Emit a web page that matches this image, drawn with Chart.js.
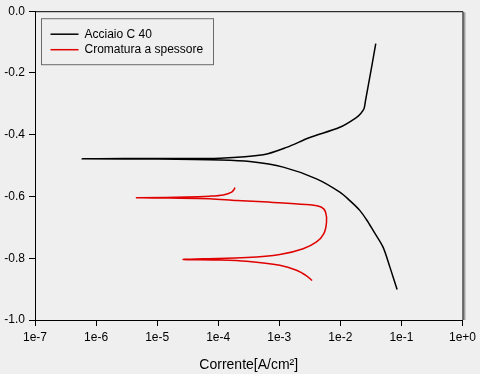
<!DOCTYPE html>
<html>
<head>
<meta charset="utf-8">
<script src="https://cdn.jsdelivr.net/npm/chart.js@4"></script>
<style>
  html, body { margin: 0; padding: 0; background: #efefef; }
  #wrap { width: 480px; height: 374px; }
</style>
</head>
<body>
<div id="wrap"><canvas id="chart" width="480" height="374"></canvas></div>
<script>
// Acciaio C 40: potential (V) vs current density (A/cm2), read along the path
const steelCurrent = [3.8e-2, 3.24e-2, 2.58e-2, 2.43e-2, 2.16e-2, 1.84e-2, 9.8e-3, 3.16e-3, 1.32e-3, 5.46e-4, 1.07e-4, 1e-5, 5.9e-7,
                      1e-5, 1.07e-4, 3.3e-4, 1.16e-3, 4.07e-3, 9.8e-3, 1.46e-2, 2.08e-2, 2.72e-2, 3.44e-2, 5.0e-2, 6.46e-2, 8.5e-2];
const steelPotential = [-0.105, -0.183, -0.290, -0.317, -0.331, -0.344, -0.376, -0.409, -0.441, -0.465, -0.476, -0.477, -0.478,
                        -0.479, -0.482, -0.487, -0.505, -0.543, -0.586, -0.615, -0.645, -0.677, -0.710, -0.764, -0.828, -0.901];

// Cromatura a spessore
const chromeCurrent = [1.87e-4, 1.85e-4, 1.66e-4, 1.21e-4, 7.3e-5, 3.04e-5, 4.6e-6,
                       1.62e-5, 7.3e-5, 2.0e-4, 6.6e-4, 1.02e-3, 3.16e-3, 4.92e-3, 5.73e-3, 5.94e-3, 5.37e-3, 4.07e-3, 2.46e-3, 1.02e-3, 2.92e-4, 5.67e-5, 2.67e-5,
                       1.07e-4, 2.92e-4, 1.02e-3, 1.92e-3, 2.8e-3, 3.45e-3];
const chromePotential = [-0.571, -0.575, -0.586, -0.595, -0.599, -0.602, -0.604,
                         -0.605, -0.607, -0.613, -0.618, -0.620, -0.627, -0.635, -0.651, -0.683, -0.720, -0.747, -0.769, -0.788, -0.798, -0.802, -0.804,
                         -0.806, -0.810, -0.823, -0.839, -0.857, -0.872];

const xDecades = [-7, -6, -5, -4, -3, -2, -1, 0];
const seriesNames = ['Acciaio C 40', 'Cromatura a spessore'];
const seriesColors = ['#000000', '#e00000'];
const xTitle = 'Corrente[A/cm²]';

function toPoints(xs, ys) {
    return xs.map((x, i) => ({ x: x, y: ys[i] }));
}

Chart.defaults.font.family = '"Liberation Sans", Arial, sans-serif';
Chart.defaults.font.size = 12;
Chart.defaults.color = '#000';

// frame on top / right and the box legend in the upper left corner
const framePlugin = {
    id: 'frame',
    beforeDraw(chart) {
        const ctx = chart.ctx;
        ctx.save();
        ctx.fillStyle = '#efefef';
        ctx.fillRect(0, 0, chart.width, chart.height);
        ctx.restore();
    },
    afterDraw(chart) {
        const ctx = chart.ctx;
        const a = chart.chartArea;
        ctx.save();
        ctx.strokeStyle = '#a0a0a0';
        ctx.lineWidth = 2;
        ctx.beginPath();
        ctx.moveTo(a.right + 2, a.top + 1);
        ctx.lineTo(a.right + 2, a.bottom);
        ctx.stroke();
        ctx.strokeStyle = '#000';
        ctx.lineWidth = 1;
        ctx.beginPath();
        ctx.moveTo(a.left, a.top + 0.5);
        ctx.lineTo(a.right + 0.5, a.top + 0.5);
        ctx.lineTo(a.right + 0.5, a.bottom);
        ctx.stroke();

        // legend
        const lx = a.left + 6.5, ly = a.top + 7.5;
        ctx.strokeStyle = '#6a6a6a';
        ctx.strokeRect(lx, ly, 172, 46);
        ctx.font = '12px "Liberation Sans", Arial, sans-serif';
        ctx.textBaseline = 'middle';
        ctx.fillStyle = '#000';
        seriesNames.forEach((name, i) => {
            const y = ly + 15.5 + i * 15.5;
            ctx.strokeStyle = seriesColors[i];
            ctx.lineWidth = 1.5;
            ctx.beginPath();
            ctx.moveTo(lx + 9, y);
            ctx.lineTo(lx + 37, y);
            ctx.stroke();
            ctx.fillText(name, lx + 43, y);
        });
        ctx.restore();
    }
};

new Chart(document.getElementById('chart'), {
    type: 'scatter',
    data: {
        datasets: [
            {
                label: seriesNames[0],
                data: toPoints(steelCurrent, steelPotential),
                showLine: true,
                borderColor: seriesColors[0],
                borderWidth: 1.5,
                pointRadius: 0,
                tension: 0.3
            },
            {
                label: seriesNames[1],
                data: toPoints(chromeCurrent, chromePotential),
                showLine: true,
                borderColor: seriesColors[1],
                borderWidth: 1.5,
                pointRadius: 0,
                tension: 0.3
            }
        ]
    },
    options: {
        responsive: false,
        animation: false,
        layout: { padding: { left: 0, right: 16, top: 10, bottom: 0 } },
        plugins: {
            legend: { display: false },
            tooltip: { enabled: false }
        },
        scales: {
            x: {
                type: 'logarithmic',
                min: 1e-7,
                max: 1,
                afterBuildTicks: scale => {
                    scale.ticks = xDecades.map(e => ({ value: Number('1e' + e) }));
                },
                afterFit: scale => { scale.height = 54; },
                ticks: {
                    padding: 4,
                    maxRotation: 0,
                    autoSkip: false,
                    callback: v => Number(v).toExponential(0)
                },
                grid: { drawOnChartArea: false, drawTicks: true, tickLength: 6, color: '#000' },
                border: { display: true, color: '#000', width: 1 },
                title: {
                    display: true,
                    text: xTitle,
                    font: { size: 14 },
                    padding: { top: 0, bottom: 0 }
                }
            },
            y: {
                min: -1,
                max: 0,
                afterFit: scale => { scale.width = 35; },
                ticks: {
                    stepSize: 0.2,
                    padding: 4,
                    callback: v => Number(v).toFixed(1)
                },
                grid: { drawOnChartArea: false, drawTicks: true, tickLength: 6, color: '#000' },
                border: { display: true, color: '#000', width: 1 }
            }
        }
    },
    plugins: [framePlugin]
});
</script>
</body>
</html>
